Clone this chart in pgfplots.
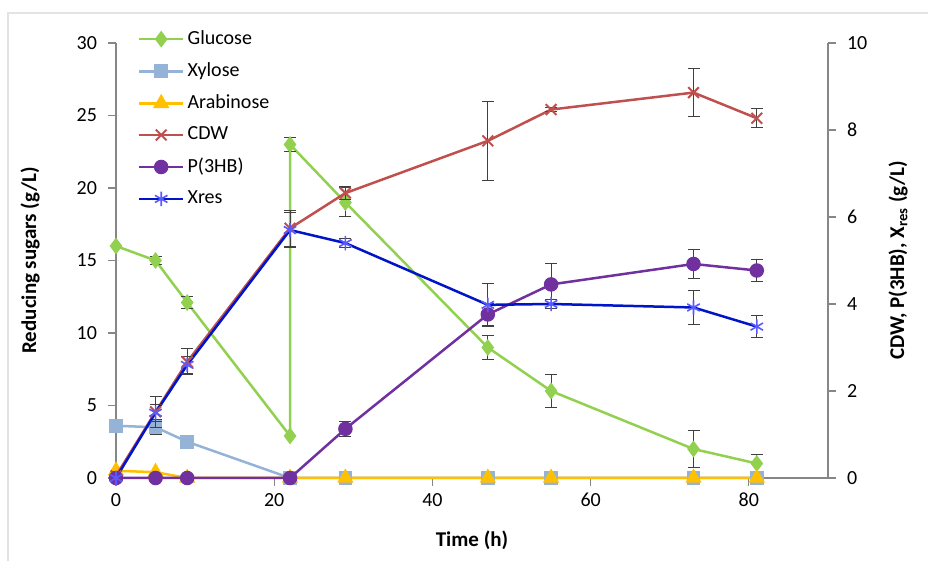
\documentclass[border=0pt]{standalone}
\usepackage{pgfplots}
\pgfplotsset{compat=1.18}
\usetikzlibrary{calc}
\usepackage{fontspec}
\setmainfont{Carlito}
\definecolor{cglu}{RGB}{146,208,80}
\definecolor{cxyl}{RGB}{149,179,215}
\definecolor{cara}{RGB}{255,192,0}
\definecolor{ccdw}{RGB}{192,80,77}
\definecolor{cphb}{RGB}{112,48,160}
\definecolor{cxres}{RGB}{0,20,200}
\definecolor{axisgray}{RGB}{134,134,134}
\begin{document}
\begin{tikzpicture}
\pgfplotsset{
  base/.style={width=356pt,height=217.5pt,scale only axis,xmin=0,xmax=90,
    /pgf/number format/assume math mode=true,
    tick align=outside, major tick length=4pt,
    tick style={axisgray,line width=0.6pt},
    axis line style={axisgray,line width=0.6pt},
    tick label style={font=\fontsize{10}{12}\selectfont},
    label style={font=\bfseries\fontsize{10.5}{12}\selectfont},
    clip=false,
  },
  eb/.style={error bars/.cd, y dir=both, y explicit,
    error bar style={line width=0.5pt,black!75,solid},
    error mark options={rotate=90,mark size=3pt,line width=0.5pt,black!75,solid}},
  legend image code/.code={\draw[mark repeat=2,mark phase=2,#1] plot coordinates {(0cm,0cm) (0.39cm,0cm) (0.78cm,0cm)};},
}
\begin{axis}[base, name=ax, ymin=0, ymax=30, ytick={0,5,...,30}, xtick={0,20,...,80},
  axis x line*=bottom, axis y line*=left,
  xlabel={Time (h)}, ylabel={Reducing sugars (g/L)},
  xlabel style={at={(rel axis cs:0.5,0)}, anchor=center, yshift=-31pt},
  ylabel style={at={(rel axis cs:0,0.5)}, anchor=center, yshift=43pt},
  yticklabel style={xshift=-2pt},
]
\addplot[cglu, line width=1.25pt, mark=diamond*, mark size=3.2pt, mark options={solid,fill=cglu}, eb]
 table[x=x,y=y,y error=e] {
x y e
0 16 0
5 15 0.3
9 12.1 0.4
22 2.9 0
22 23 0.5
29 19 1.0
47 9 0.8
55 6 1.15
73 2 1.3
81 1 0.6
};
\addplot[cxyl, line width=1.25pt, mark=square*, mark size=2.8pt, mark options={solid,fill=cxyl}, eb]
 table[x=x,y=y,y error=e] {
x y e
0 3.6 0
5 3.5 0.5
9 2.5 0
22 0 0
29 0 0
47 0 0
55 0 0
73 0 0
81 0 0
};
\addplot[cara, line width=1.25pt, mark=triangle*, mark size=3.5pt, mark options={solid,fill=cara}]
 table[x=x,y=y] {
x y
0 0.5
5 0.4
9 0
22 0
29 0
47 0
55 0
73 0
81 0
};
\end{axis}
\begin{axis}[base, ymin=0, ymax=10, ytick={0,2,...,10},
  axis x line=none, axis y line*=right,
  ylabel={CDW, P(3HB), X\textsubscript{res} (g/L)},
  ylabel style={at={(rel axis cs:1,0.5)}, anchor=center, yshift=-35pt},
  yticklabel style={xshift=2pt},
  legend style={at={(rel axis cs:0.03,1.036)}, anchor=north west, draw=none, fill=none,
    font=\fontsize{10}{12}\selectfont, row sep=4.6pt, inner sep=0pt,
    nodes={inner sep=1.5pt}},
  legend cell align=left,
]
\addlegendimage{cglu, line width=1.25pt, mark=diamond*, mark size=3.2pt, mark options={solid,fill=cglu}}
\addlegendentry{Glucose}
\addlegendimage{cxyl, line width=1.25pt, mark=square*, mark size=2.8pt, mark options={solid,fill=cxyl}}
\addlegendentry{Xylose}
\addlegendimage{cara, line width=1.25pt, mark=triangle*, mark size=3.5pt, mark options={solid,fill=cara}}
\addlegendentry{Arabinose}
\addplot[ccdw, line width=1.25pt, mark=x, mark size=3.8pt, mark options={solid,line width=1pt}, eb]
 table[x=x,y=y,y error=e] {
x y e
0 0.05 0
5 1.52 0.35
9 2.67 0.3
22 5.74 0.42
29 6.55 0.15
47 7.75 0.9
55 8.47 0.05
73 8.86 0.55
81 8.27 0.22
};
\addlegendentry{CDW}
\addplot[cphb, line width=1.25pt, mark=*, mark size=3pt, mark options={solid,fill=cphb}, eb]
 table[x=x,y=y,y error=e] {
x y e
0 0 0
5 0 0
9 0 0
22 0 0
29 1.13 0.18
47 3.76 0.25
55 4.45 0.47
73 4.92 0.33
81 4.77 0.25
};
\addlegendentry{P(3HB)}
\addplot[cxres, line width=1.25pt, mark=asterisk, mark size=3.6pt, mark options={solid,line width=0.8pt,draw=blue!65}, eb]
 table[x=x,y=y,y error=e] {
x y e
0 0 0
5 1.5 0.2
9 2.6 0.2
22 5.7 0.4
29 5.4 0.1
47 3.98 0.5
55 4.0 0.1
73 3.92 0.38
81 3.48 0.25
};
\addlegendentry{Xres}
\end{axis}
\draw[gray!22, line width=0.6pt] ($(ax.south west)+(-54pt,-45pt)$) -- ($(ax.south west)+(-54pt,232.5pt)$) -- ($(ax.south west)+(410pt,232.5pt)$);
\pgfresetboundingbox
\path ($(ax.south west)+(-58pt,-41.5pt)$) rectangle ($(ax.south west)+(406pt,239pt)$);
\end{tikzpicture}
\end{document}
